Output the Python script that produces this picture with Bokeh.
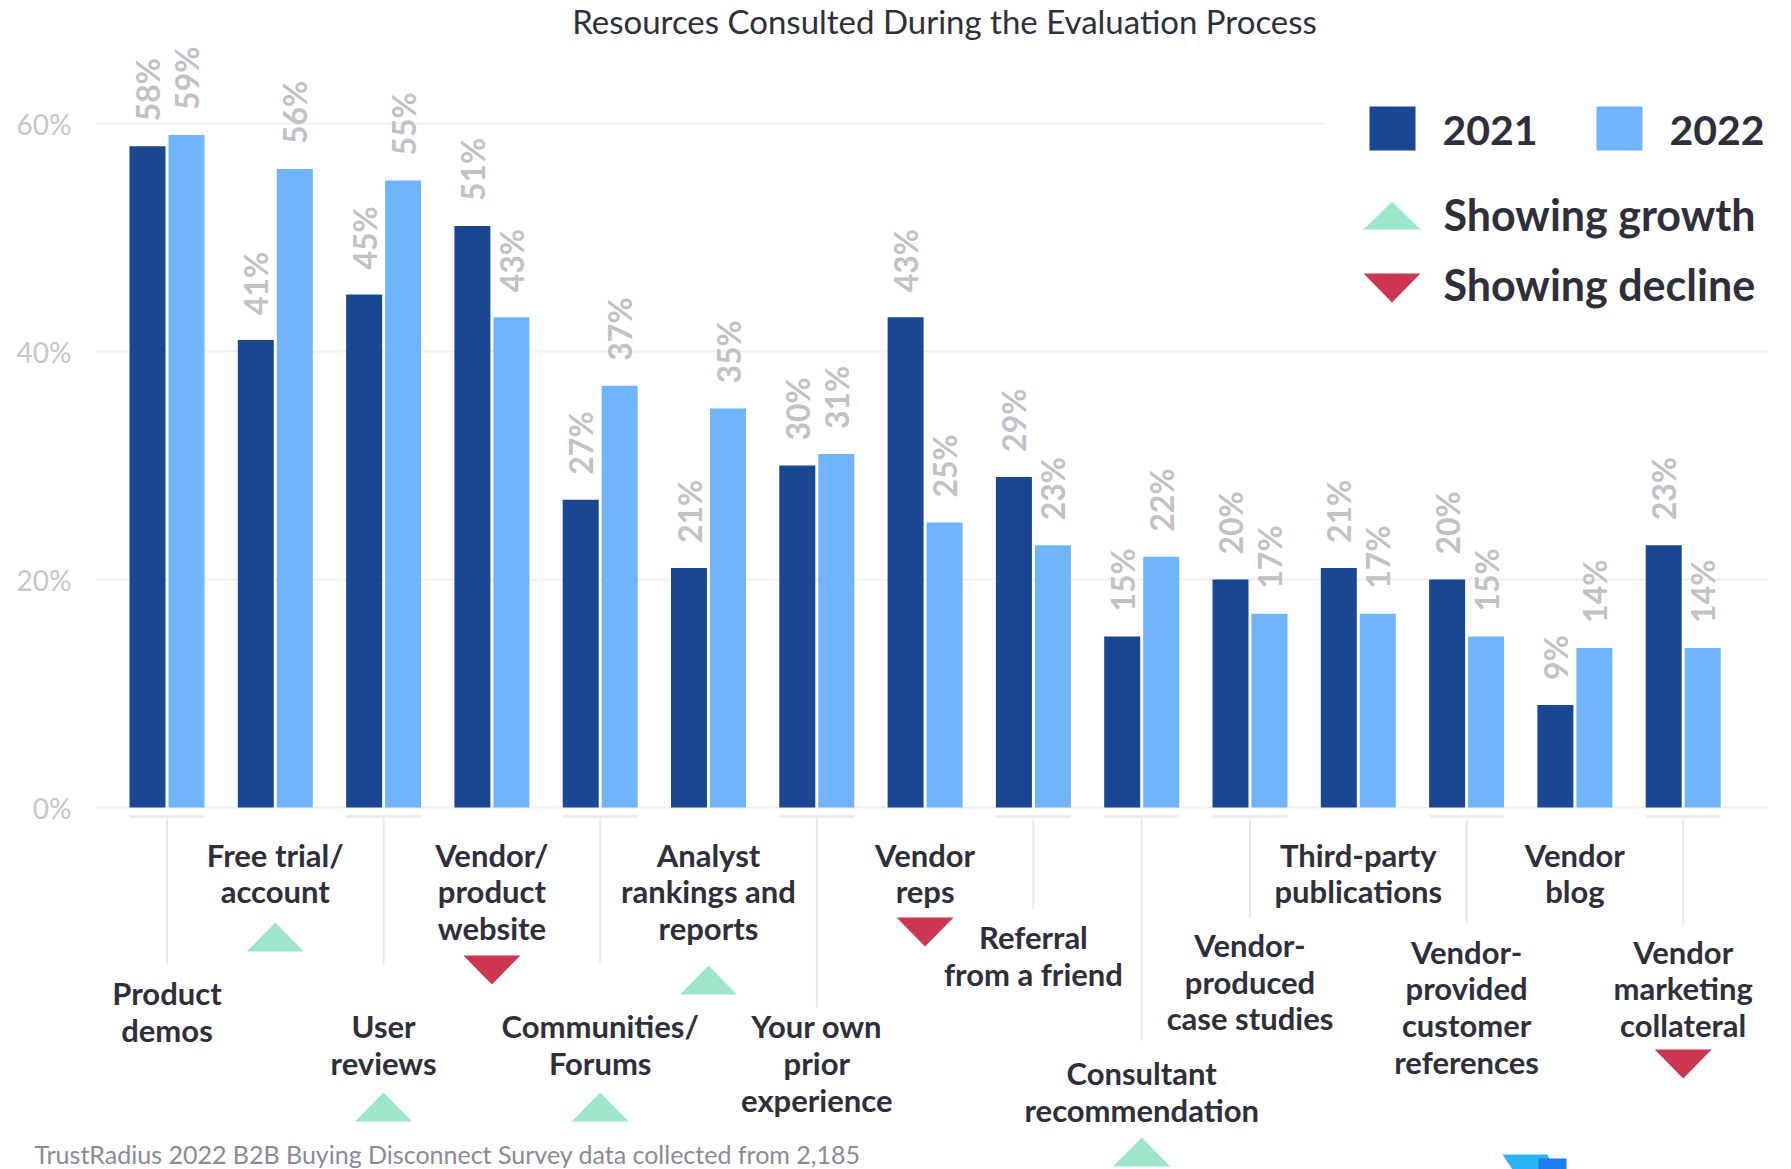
import math
from bokeh.plotting import figure
from bokeh.models import Range1d, FixedTicker, PrintfTickFormatter, ColumnDataSource
from bokeh.core.properties import value
from bokeh.embed import file_html
from bokeh.resources import INLINE

# ---------------- data ----------------
title_text = "Resources Consulted During the Evaluation Process"
categories = ["Product demos", "Free trial/ account", "User reviews",
              "Vendor/ product website", "Communities/ Forums",
              "Analyst rankings and reports", "Your own prior experience",
              "Vendor reps", "Referral from a friend",
              "Consultant recommendation", "Vendor- produced case studies",
              "Third-party publications",
              "Vendor- provided customer references", "Vendor blog",
              "Vendor marketing collateral"]
label_lines = [["Product", "demos"], ["Free trial/", "account"],
               ["User", "reviews"], ["Vendor/", "product", "website"],
               ["Communities/", "Forums"],
               ["Analyst", "rankings and", "reports"],
               ["Your own", "prior", "experience"], ["Vendor", "reps"],
               ["Referral", "from a friend"],
               ["Consultant", "recommendation"],
               ["Vendor-", "produced", "case studies"],
               ["Third-party", "publications"],
               ["Vendor-", "provided", "customer", "references"],
               ["Vendor", "blog"], ["Vendor", "marketing", "collateral"]]
values_2021 = [58, 41, 45, 51, 27, 21, 30, 43, 29, 15, 20, 21, 20, 9, 23]
values_2022 = [59, 56, 55, 43, 37, 35, 31, 25, 23, 22, 17, 17, 15, 14, 14]
trend = [None, "up", "up", "down", "up", "up", None, "down", None, "up",
         None, None, None, None, "down"]
series_names = ["2021", "2022"]
trend_names = ["Showing growth", "Showing decline"]
y_ticks = [0, 20, 40, 60]
footnote = "TrustRadius 2022 B2B Buying Disconnect Survey data collected from 2,185"

# ---------------- layout (reference pixels) ----------------
W, H = 1791, 1169
X_C0, X_STEP = 166.5, 108.3      # first group centre, group pitch
Y_BASE, Y_PER = 807.0, 11.4      # 0% baseline, px per percent
PLOT_L, FRAME_L, FRAME_R, FRAME_T, FRAME_B = 96, 34, 1768, 0, 1169
LINE_H = 36.8
BASE_K = 0.35                    # baseline correction (fraction of font size)
label_first_mid = [992.6, 854.4, 1025.8, 854.4, 1025.8, 854.4, 1025.8, 854.4,
                   936.7, 1072.6, 944.7, 854.4, 951.5, 854.4, 951.5]
leader_end = [963, None, 965, None, 965, None, 1007, None, 909, 1040, 917,
              None, 923, None, 926]
tri_top = [None, 922, 1092, 955, 1092, 965, None, 917, None, 1137, None,
           None, None, None, 1049]


def dx(px):
    return (px - X_C0) / X_STEP


def dy(py):
    return (Y_BASE - py) / Y_PER


def ux(px):
    return px / X_STEP


def uy(px):
    return px / Y_PER


def base(py, fs):
    return dy(py - BASE_K * fs)


C2021, C2022 = "#1a4791", "#70b4fe"
GROWTH, DECLINE = "#9de6c9", "#cc3650"
TEXT = "#2f2f3b"
VALUE_GRAY = "#c1c1c6"
TICK_GRAY = "#c6c6cb"
GRID = "#f0f0f2"
LEADER = "#e8e8ec"
FONT = "Lato"

p = figure(width=W, height=H,
           x_range=Range1d(dx(FRAME_L), dx(FRAME_R)),
           y_range=Range1d(dy(FRAME_B), dy(FRAME_T)),
           output_backend="svg", toolbar_location=None, x_axis_location=None,
           min_border_left=FRAME_L, min_border_right=W - FRAME_R,
           min_border_top=0, min_border_bottom=0)
p.outline_line_color = None
p.background_fill_color = "white"
p.xgrid.visible = False
p.ygrid.ticker = FixedTicker(ticks=y_ticks)
p.ygrid.grid_line_color = GRID
p.ygrid.grid_line_width = 2
ax = p.yaxis[0]
ax.ticker = FixedTicker(ticks=y_ticks)
ax.formatter = PrintfTickFormatter(format="%d%%")
ax.axis_line_color = None
ax.major_tick_line_color = None
ax.minor_tick_line_color = None
ax.major_tick_out = 0
ax.major_label_text_font = FONT
ax.major_label_text_font_size = "28px"
ax.major_label_text_color = TICK_GRAY
ax.major_label_standoff = -37    # labels end at x=71, left of the plot area

# keep the grid lines inside the plot area (they start at x=96)
p.quad(left=[dx(0)], right=[dx(PLOT_L)], top=[dy(90)], bottom=[dy(820)],
       fill_color="white", line_color=None)

# ---------------- bars ----------------
n = len(categories)
idx = list(range(n))
BW = ux(36)
OFF = ux(19.5)
src = ColumnDataSource(dict(
    x1=[i - OFF for i in idx], x2=[i + OFF for i in idx],
    v1=values_2021, v2=values_2022,
    l1=[v + uy(25) for v in values_2021], l2=[v + uy(25) for v in values_2022],
    t1=["%d%%" % v for v in values_2021], t2=["%d%%" % v for v in values_2022]))
r1 = p.vbar(x="x1", top="v1", bottom=0, width=BW, fill_color=C2021,
            line_color=None, source=src)
r2 = p.vbar(x="x2", top="v2", bottom=0, width=BW, fill_color=C2022,
            line_color=None, source=src)
for xs, ys, ts in (("x1", "l1", "t1"), ("x2", "l2", "t2")):
    p.text(x=xs, y=ys, text=ts, source=src, angle=math.pi / 2,
           text_align="left", text_baseline="middle",
           text_font=value(FONT), text_font_style="bold",
           text_font_size="32px", text_color=VALUE_GRAY)

# ---------------- category labels, leaders, trend markers ----------------
LFS = 31
lx, ly, lt = [], [], []
for i, lines in enumerate(label_lines):
    for k, line in enumerate(lines):
        lx.append(i)
        ly.append(base(label_first_mid[i] + 10.5 + k * LINE_H, LFS))
        lt.append(line)
p.text(x=lx, y=ly, text=lt, text_align="center", text_baseline="alphabetic",
       text_font=value(FONT), text_font_style="bold",
       text_font_size="%dpx" % LFS, text_color=TEXT)

bx0, bx1, by, vx, vy0, vy1 = [], [], [], [], [], []
for i in idx:
    if leader_end[i] is not None:
        bx0.append(i - OFF - BW / 2)
        bx1.append(i + OFF + BW / 2)
        by.append(dy(816))
        vx.append(i)
        vy0.append(dy(818))
        vy1.append(dy(leader_end[i]))
p.segment(x0=bx0, x1=bx1, y0=by, y1=by, line_color="#ececf0", line_width=3)
p.segment(x0=vx, x1=vx, y0=vy0, y1=vy1, line_color=LEADER, line_width=2)

HW, TH = ux(28.5), uy(29)
up_xs, up_ys, dn_xs, dn_ys = [], [], [], []
for i in idx:
    if trend[i] == "up":
        t = dy(tri_top[i])
        up_xs.append([i - HW, i + HW, i])
        up_ys.append([t - TH, t - TH, t])
    elif trend[i] == "down":
        t = dy(tri_top[i])
        dn_xs.append([i - HW, i + HW, i])
        dn_ys.append([t, t, t - TH])
p.patches(up_xs, up_ys, fill_color=GROWTH, line_color=None)
p.patches(dn_xs, dn_ys, fill_color=DECLINE, line_color=None)

# ---------------- title ----------------
p.text(x=[dx(944)], y=[base(32, 33)], text=[title_text], text_align="center",
       text_baseline="alphabetic", text_font=value(FONT),
       text_font_size="33px", text_color=TEXT)

# ---------------- legend (drawn on a white panel over the grid) ----------------
GFS, YFS = 43, 41
p.quad(left=[dx(1325)], right=[dx(FRAME_R)], top=[dy(92)], bottom=[dy(312)],
       fill_color="white", line_color=None)
p.quad(left=[dx(1369), dx(1596)], right=[dx(1415), dx(1642)],
       top=[dy(106), dy(106)], bottom=[dy(150), dy(150)],
       fill_color=[C2021, C2022], line_color=None)
p.text(x=[dx(1442), dx(1669)], y=[base(144, YFS), base(144, YFS)],
       text=series_names, text_align="left", text_baseline="alphabetic",
       text_font=value(FONT), text_font_style="bold",
       text_font_size="%dpx" % YFS, text_color=TEXT)
p.patches([[dx(1363), dx(1420), dx(1391.5)], [dx(1363), dx(1420), dx(1391.5)]],
          [[dy(229), dy(229), dy(201)], [dy(273), dy(273), dy(302)]],
          fill_color=[GROWTH, DECLINE], line_color=None)
p.text(x=[dx(1443), dx(1443)], y=[base(229.5, GFS), base(299.5, GFS)],
       text=trend_names, text_align="left", text_baseline="alphabetic",
       text_font=value(FONT), text_font_style="bold",
       text_font_size="%dpx" % GFS, text_color=TEXT)

# ---------------- footnote & logo sliver ----------------
p.text(x=[dx(34)], y=[base(1162, 25)], text=[footnote], text_align="left",
       text_baseline="alphabetic", text_font=value(FONT),
       text_font_size="25px", text_color="#8a8a98")
p.patches([[dx(1502), dx(1547), dx(1553), dx(1512)],
           [dx(1538), dx(1566), dx(1566), dx(1538)]],
          [[dy(1154), dy(1154), dy(1169), dy(1169)],
           [dy(1158), dy(1158), dy(1169), dy(1169)]],
          fill_color=["#2bb5f6", "#1c7cf0"], line_color=None)

open("out.html", "w").write(file_html(p, INLINE))
